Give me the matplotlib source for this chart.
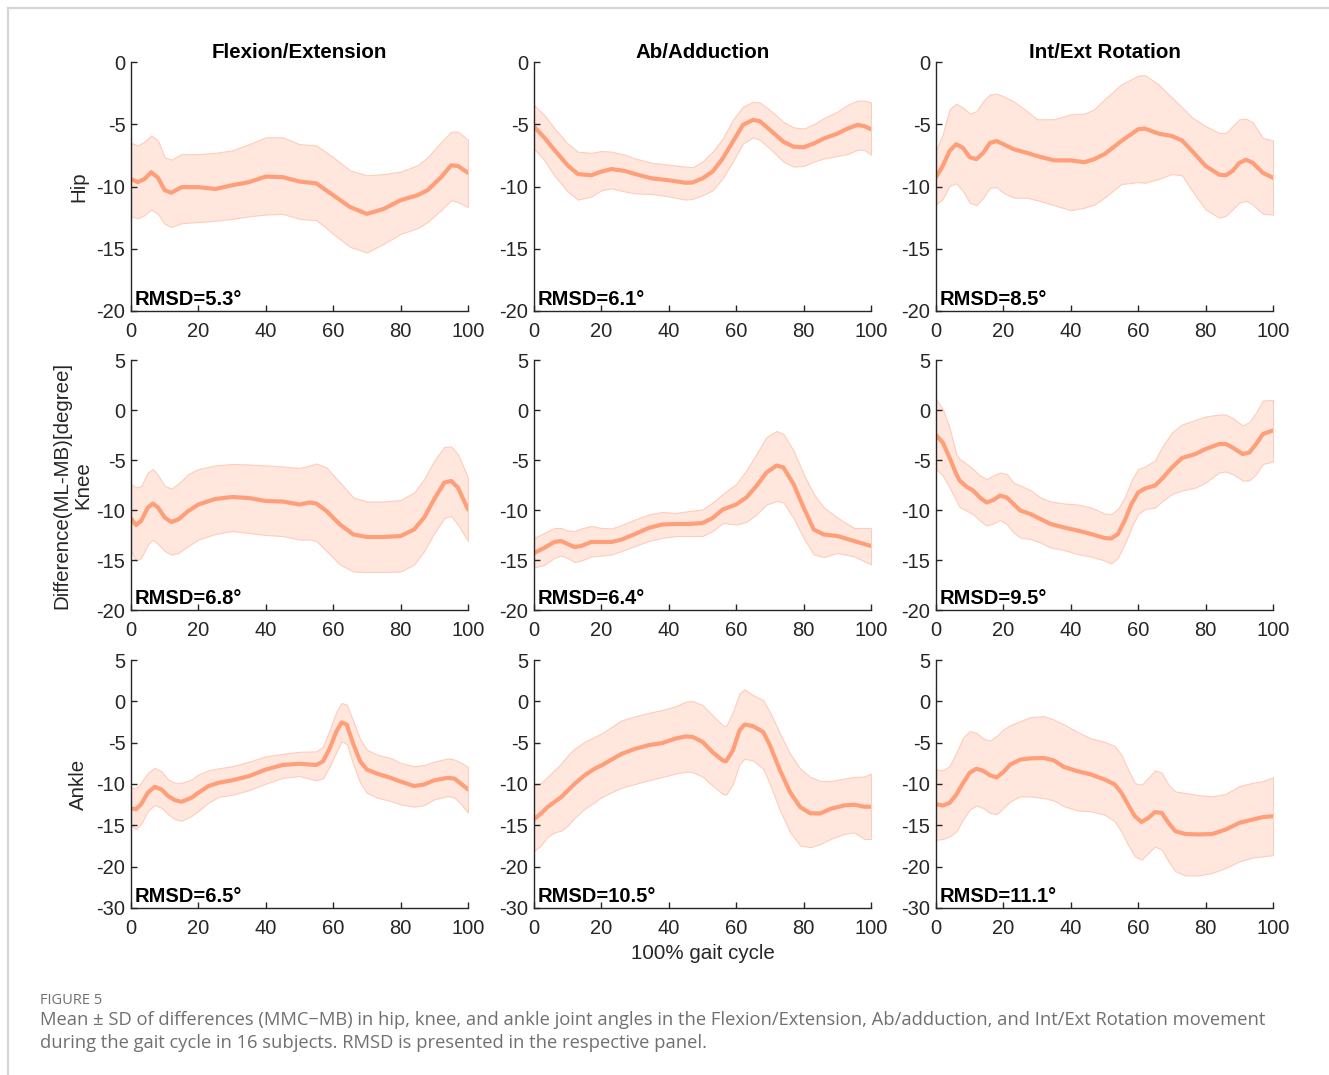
import matplotlib
matplotlib.use("Agg")
import matplotlib.pyplot as plt
from matplotlib.lines import Line2D

plt.rcParams['font.family'] = ['Liberation Sans', 'DejaVu Sans']

# ---------------- data ----------------
col_titles = ["Flexion/Extension", "Ab/Adduction", "Int/Ext Rotation"]
row_labels = ["Hip", "Knee", "Ankle"]
rmsd_labels = [["RMSD=5.3°", "RMSD=6.1°", "RMSD=8.5°"],
               ["RMSD=6.8°", "RMSD=6.4°", "RMSD=9.5°"],
               ["RMSD=6.5°", "RMSD=10.5°", "RMSD=11.1°"]]
x_ticks = [0, 20, 40, 60, 80, 100]
hip_yticks = [-20, -15, -10, -5, 0]
hip_yticklabels = ["-20", "-15", "-10", "-5", "0"]
knee_yticks = [-20, -15, -10, -5, 0, 5]
knee_yticklabels = ["-20", "-15", "-10", "-5", "0", "5"]
ankle_yticks = [-25, -20, -15, -10, -5, 0, 5]
ankle_yticklabels = ["-30", "-20", "-15", "-10", "-5", "0", "5"]

# Hip Flexion/Extension
hip_fe_x = [0, 2, 4, 6, 8, 10, 12, 15, 20, 25, 30, 35, 40, 45, 50, 55, 60, 65, 70, 75, 80, 85, 88, 92, 95, 97, 100]
hip_fe_mean = [-9.4, -9.65, -9.4, -8.85, -9.3, -10.3, -10.5, -10.05, -10.05, -10.2, -9.9, -9.65, -9.2, -9.25, -9.6, -9.75,
               -10.7, -11.65, -12.2, -11.8, -11.1, -10.7, -10.3, -9.25, -8.3, -8.35, -8.9]
hip_fe_hi = [-6.5, -6.7, -6.4, -5.9, -6.3, -7.65, -7.85, -7.4, -7.4, -7.3, -7.1, -6.6, -6.05, -6.05, -6.6, -6.7,
             -7.65, -8.7, -9.1, -9.0, -8.8, -8.3, -7.65, -6.45, -5.6, -5.6, -6.25]
hip_fe_lo = [-12.4, -12.55, -12.3, -11.85, -12.2, -13.0, -13.25, -12.95, -12.85, -12.75, -12.6, -12.4, -12.25, -12.2, -12.6, -12.7,
             -13.8, -14.85, -15.3, -14.6, -13.8, -13.35, -12.85, -11.9, -11.1, -11.25, -11.65]

# Hip Ab/Adduction
hip_aa_x = [0, 3, 6, 10, 13, 17, 20, 23, 27, 30, 35, 40, 45, 47, 50, 53, 56, 59, 62, 65, 67, 70, 74, 77, 80, 83, 86, 90, 93, 96, 98, 100]
hip_aa_mean = [-5.2, -6.05, -7.05, -8.3, -9.0, -9.1, -8.8, -8.6, -8.75, -9.0, -9.35, -9.5, -9.7, -9.68, -9.35, -8.8, -7.75,
               -6.4, -5.05, -4.65, -4.75, -5.45, -6.4, -6.8, -6.85, -6.55, -6.15, -5.75, -5.35, -5.05, -5.15, -5.4]
hip_aa_hi = [-3.45, -4.25, -5.3, -6.55, -7.2, -7.3, -7.15, -7.2, -7.45, -7.75, -8.1, -8.25, -8.4, -8.45, -8.0, -7.2, -6.15,
             -4.65, -3.6, -3.2, -3.25, -3.85, -4.8, -5.25, -5.35, -5.0, -4.5, -4.0, -3.45, -3.1, -3.1, -3.25]
hip_aa_lo = [-6.95, -7.85, -9.1, -10.4, -11.05, -10.8, -10.3, -10.15, -10.4, -10.55, -10.6, -10.8, -11.05, -11.0, -10.7, -10.3, -9.35,
             -8.0, -6.55, -6.05, -6.25, -6.95, -8.0, -8.4, -8.35, -8.0, -7.75, -7.55, -7.4, -7.05, -7.05, -7.45]

# Hip Int/Ext Rotation
hip_ie_x = [0, 2, 4, 6, 8, 10, 12, 14, 16, 18, 20, 23, 27, 30, 35, 40, 44, 47, 50, 55, 60, 62, 66, 70, 73, 76, 80, 84, 86, 88, 90, 92, 94, 97, 100]
hip_ie_mean = [-9.25, -8.35, -7.15, -6.6, -6.9, -7.65, -7.8, -7.3, -6.5, -6.35, -6.6, -7.0, -7.3, -7.55, -7.9, -7.9, -8.05, -7.8,
               -7.4, -6.35, -5.4, -5.35, -5.75, -5.95, -6.3, -7.15, -8.35, -9.05, -9.1, -8.75, -8.1, -7.85, -8.1, -8.9, -9.3]
hip_ie_hi = [-7.1, -5.8, -3.8, -3.35, -3.65, -4.15, -3.95, -3.15, -2.6, -2.55, -2.75, -3.15, -3.95, -4.6, -4.6, -4.2, -4.15, -3.8,
             -3.0, -1.8, -1.1, -1.05, -1.8, -2.85, -3.65, -4.45, -5.15, -5.7, -5.7, -5.15, -4.6, -4.55, -4.85, -6.1, -6.3]
hip_ie_lo = [-11.45, -11.0, -9.95, -9.75, -10.35, -11.3, -11.5, -10.9, -10.1, -10.05, -10.5, -10.9, -10.9, -11.1, -11.5, -11.9, -11.7, -11.45,
             -10.9, -9.8, -9.65, -9.7, -9.4, -9.0, -9.1, -10.35, -11.85, -12.5, -12.35, -11.85, -11.3, -11.15, -11.45, -12.2, -12.25]

# Knee Flexion/Extension
knee_fe_x = [0, 1.5, 3, 5, 6.5, 8, 10, 12, 14, 17, 20, 25, 30, 35, 40, 45, 50, 53, 55, 58, 62, 66, 70, 75, 80, 84, 87, 90, 93, 95, 97, 100]
knee_fe_mean = [-10.85, -11.5, -11.1, -9.75, -9.35, -9.75, -10.75, -11.2, -10.95, -10.1, -9.45, -8.9, -8.7, -8.8, -9.1, -9.15, -9.45,
                -9.25, -9.35, -10.1, -11.45, -12.45, -12.7, -12.7, -12.6, -11.95, -10.75, -8.9, -7.25, -7.1, -7.75, -9.95]
knee_fe_hi = [-7.4, -7.75, -7.6, -6.25, -5.9, -6.5, -7.6, -7.85, -7.4, -6.4, -5.9, -5.55, -5.4, -5.45, -5.55, -5.65, -5.8,
              -5.55, -5.35, -5.75, -7.25, -8.75, -9.15, -9.15, -9.0, -8.25, -6.9, -5.05, -3.7, -3.65, -4.4, -6.75]
knee_fe_lo = [-14.1, -15.1, -14.8, -13.45, -12.95, -13.4, -14.1, -14.45, -14.3, -13.6, -12.95, -12.4, -12.1, -12.3, -12.5, -12.6, -12.95,
              -12.95, -13.1, -14.1, -15.45, -16.15, -16.2, -16.2, -16.15, -15.45, -14.1, -12.3, -10.8, -10.6, -11.45, -13.1]

# Knee Ab/Adduction
knee_aa_x = [0, 3, 6, 8, 10, 12, 14, 17, 20, 23, 26, 30, 34, 38, 42, 46, 50, 53, 56, 60, 63, 66, 69, 72, 74, 77, 80, 83, 86, 90, 95, 100]
knee_aa_mean = [-14.3, -13.8, -13.2, -13.1, -13.4, -13.7, -13.6, -13.2, -13.2, -13.2, -12.95, -12.4, -11.8, -11.45, -11.4, -11.4, -11.3,
                -10.8, -9.95, -9.45, -8.75, -7.6, -6.25, -5.55, -5.75, -7.4, -9.75, -11.95, -12.45, -12.6, -13.1, -13.6]
knee_aa_hi = [-12.8, -12.3, -11.8, -11.8, -12.05, -12.1, -11.85, -11.6, -11.8, -11.85, -11.5, -10.95, -10.45, -10.2, -10.3, -10.1, -9.95,
              -9.25, -8.4, -7.4, -6.05, -4.4, -2.7, -2.1, -2.4, -4.05, -6.4, -8.4, -9.75, -10.75, -11.8, -11.8]
knee_aa_lo = [-15.75, -15.5, -14.8, -14.55, -14.8, -15.2, -15.05, -14.65, -14.55, -14.45, -14.1, -13.6, -13.1, -12.8, -12.6, -12.6, -12.6,
              -12.1, -11.3, -11.45, -11.2, -10.45, -9.45, -9.1, -9.25, -10.8, -12.8, -14.45, -14.7, -14.3, -14.65, -15.45]

# Knee Int/Ext Rotation
knee_ie_x = [0, 2, 4, 6, 7, 9, 11, 13, 15, 17, 19, 21, 23, 25, 28, 31, 34, 38, 42, 46, 50, 52, 54, 56, 58, 60, 62, 65, 67, 70,
             73, 77, 80, 84, 86, 88, 91, 93, 95, 97, 100]
knee_ie_mean = [-2.5, -3.25, -4.75, -6.4, -7.05, -7.65, -8.05, -8.75, -9.25, -9.0, -8.55, -8.75, -9.4, -10.05, -10.4, -10.9, -11.4,
                -11.75, -12.05, -12.4, -12.8, -12.85, -12.4, -11.05, -9.4, -8.25, -7.85, -7.55, -6.9, -5.75,
                -4.8, -4.4, -3.9, -3.4, -3.4, -3.75, -4.4, -4.25, -3.4, -2.4, -2.05]
knee_ie_hi = [1.1, 0.1, -1.75, -4.4, -4.9, -5.35, -5.9, -6.55, -6.9, -6.55, -6.25, -6.4, -7.25, -7.55, -8.0, -8.75, -9.15,
              -9.35, -9.45, -9.75, -10.35, -10.4, -9.9, -8.75, -7.05, -5.9, -5.65, -5.05, -3.75, -2.25,
              -1.45, -1.0, -0.65, -0.45, -0.45, -0.8, -1.55, -1.2, -0.25, 0.95, 1.0]
knee_ie_lo = [-5.9, -6.55, -7.75, -9.05, -9.7, -10.05, -10.4, -11.05, -11.55, -11.35, -11.0, -11.4, -12.25, -12.75, -12.9, -13.25, -13.75,
              -14.0, -14.4, -14.65, -15.05, -15.35, -14.75, -13.4, -11.75, -10.4, -9.9, -9.75, -9.15, -8.4,
              -8.05, -7.75, -7.25, -6.25, -6.15, -6.4, -7.05, -7.05, -6.4, -5.4, -5.15]

# Ankle Flexion/Extension
ankle_fe_x = [0, 1.5, 3, 5, 7, 9, 11, 13, 15, 18, 20, 23, 26, 30, 35, 40, 45, 50, 55, 57, 59, 61, 62.5, 64, 66, 68, 70,
              73, 77, 80, 84, 87, 90, 94, 96, 98, 100]
ankle_fe_mean = [-12.95, -13.05, -12.45, -11.05, -10.35, -10.65, -11.45, -11.95, -12.15, -11.65, -11.05, -10.25, -9.85, -9.55,
                 -9.05, -8.25, -7.7, -7.55, -7.7, -7.25, -5.65, -3.6, -2.55, -2.8, -5.2, -7.25, -8.25,
                 -8.75, -9.25, -9.7, -10.25, -10.05, -9.55, -9.25, -9.35, -10.0, -10.65]
ankle_fe_hi = [-10.45, -10.45, -9.85, -8.65, -8.05, -8.45, -9.45, -9.85, -9.85, -9.45, -8.85, -8.35, -8.1, -7.85,
               -7.3, -6.65, -6.35, -6.1, -6.05, -5.45, -3.4, -1.2, -0.2, -0.4, -2.4, -4.6, -5.85,
               -6.45, -6.85, -7.45, -7.85, -7.7, -7.3, -6.9, -7.05, -7.45, -7.95]
ankle_fe_lo = [-15.05, -15.45, -14.85, -13.25, -12.55, -12.85, -13.65, -14.25, -14.45, -13.85, -13.25, -12.25, -11.55, -11.3,
               -10.75, -9.95, -9.25, -9.05, -9.55, -9.3, -7.85, -6.05, -4.85, -5.15, -7.65, -9.85, -11.05,
               -11.65, -12.05, -12.45, -12.75, -12.55, -11.85, -11.45, -11.65, -12.45, -13.45]

# Ankle Ab/Adduction
ankle_aa_x = [0, 2, 4, 6, 8, 10, 12, 15, 18, 20, 23, 26, 30, 34, 38, 42, 45, 47, 50, 53, 56, 57, 59, 61, 62.5, 65, 68, 70,
              73, 76, 79, 82, 85, 88, 92, 95, 98, 100]
ankle_aa_mean = [-14.25, -13.6, -12.8, -12.2, -11.6, -10.8, -10.0, -8.95, -8.15, -7.75, -7.05, -6.35, -5.75, -5.3, -5.05, -4.5,
                 -4.25, -4.3, -4.9, -6.15, -7.15, -7.25, -5.95, -3.5, -2.8, -3.0, -3.7, -5.3,
                 -8.35, -11.0, -12.8, -13.55, -13.55, -13.0, -12.6, -12.5, -12.75, -12.75]
ankle_aa_hi = [-10.2, -9.9, -9.15, -8.35, -7.55, -6.55, -5.75, -4.9, -4.3, -3.9, -3.1, -2.3, -1.8, -1.4, -1.05, -0.6,
               -0.05, 0.05, -0.45, -1.7, -2.9, -3.0, -1.3, 0.95, 1.45, 0.75, 0.15, -1.3,
               -3.9, -6.35, -8.15, -9.15, -9.65, -9.65, -9.35, -9.15, -9.1, -8.75]
ankle_aa_lo = [-18.1, -17.45, -16.4, -15.85, -15.65, -15.05, -14.1, -13.0, -12.2, -11.6, -11.0, -10.45, -10.0, -9.55, -9.15, -8.75,
               -8.5, -8.55, -9.1, -10.2, -11.2, -11.3, -10.0, -7.55, -6.95, -7.15, -8.15, -10.0,
               -13.2, -15.85, -17.45, -17.65, -17.25, -16.65, -16.05, -15.85, -16.65, -16.65]

# Ankle Int/Ext Rotation
ankle_ie_x = [0, 2, 4, 6, 8, 10, 12, 14, 16, 18, 20, 22, 25, 28, 32, 35, 38, 42, 46, 50, 53, 55, 57, 59, 61, 63, 65, 67, 69,
              71, 74, 78, 82, 86, 90, 94, 97, 100]
ankle_ie_mean = [-12.45, -12.6, -12.3, -11.3, -9.9, -8.65, -8.15, -8.4, -8.95, -9.2, -8.55, -7.65, -7.05, -6.9, -6.85, -7.15,
                 -7.95, -8.45, -8.85, -9.45, -10.05, -11.05, -12.5, -13.9, -14.6, -14.1, -13.4, -13.5, -14.7,
                 -15.7, -16.05, -16.1, -16.05, -15.5, -14.7, -14.3, -14.0, -13.9]
ankle_ie_hi = [-8.25, -8.35, -7.85, -6.25, -4.4, -3.6, -3.8, -4.5, -4.75, -4.2, -3.4, -2.9, -2.4, -1.9, -1.8, -2.2,
               -2.8, -3.7, -4.5, -4.9, -5.4, -6.45, -8.25, -9.9, -10.1, -9.25, -8.35, -8.65, -10.1,
               -10.9, -11.1, -11.35, -11.5, -11.2, -10.25, -9.85, -9.65, -9.2]
ankle_ie_lo = [-16.75, -16.65, -16.35, -15.75, -14.3, -13.1, -12.6, -12.9, -13.5, -13.65, -12.9, -12.1, -11.5, -11.5, -11.7, -12.0,
               -12.7, -13.2, -13.3, -13.7, -14.5, -15.75, -17.35, -18.75, -19.15, -18.35, -17.55, -17.95, -19.35,
               -20.55, -21.05, -21.05, -20.75, -20.15, -19.35, -18.9, -18.75, -18.6]

panels = [
    [(hip_fe_x, hip_fe_mean, hip_fe_lo, hip_fe_hi),
     (hip_aa_x, hip_aa_mean, hip_aa_lo, hip_aa_hi),
     (hip_ie_x, hip_ie_mean, hip_ie_lo, hip_ie_hi)],
    [(knee_fe_x, knee_fe_mean, knee_fe_lo, knee_fe_hi),
     (knee_aa_x, knee_aa_mean, knee_aa_lo, knee_aa_hi),
     (knee_ie_x, knee_ie_mean, knee_ie_lo, knee_ie_hi)],
    [(ankle_fe_x, ankle_fe_mean, ankle_fe_lo, ankle_fe_hi),
     (ankle_aa_x, ankle_aa_mean, ankle_aa_lo, ankle_aa_hi),
     (ankle_ie_x, ankle_ie_mean, ankle_ie_lo, ankle_ie_hi)],
]
row_ylims = [(-20, 0), (-20, 5), (-25, 5)]
row_yticks = [(hip_yticks, hip_yticklabels), (knee_yticks, knee_yticklabels), (ankle_yticks, ankle_yticklabels)]

# ---------------- styling ----------------
LINE_C = '#FF9F7A'
FILL_C = '#FFE7DE'
EDGE_C = '#FDCDBB'
AX_C = '#262626'

W, H = 1329, 1075
fig = plt.figure(figsize=(W / 100, H / 100), dpi=100)

col_left = [131, 534, 936]
ax_w = 337
row_top = [62, 360, 660]
row_bot = [311, 610, 908]

for r in range(3):
    for c in range(3):
        l = col_left[c] / W
        b = 1 - row_bot[r] / H
        h = (row_bot[r] - row_top[r]) / H
        ax = fig.add_axes([l, b, ax_w / W, h])
        x, m, lo, hi = panels[r][c]
        ax.fill_between(x, lo, hi, facecolor=FILL_C, edgecolor=EDGE_C, linewidth=0.8, zorder=1)
        ax.plot(x, m, color=LINE_C, linewidth=3.0, solid_capstyle='round', solid_joinstyle='round', zorder=2)
        ax.set_xlim(0, 100)
        ax.set_ylim(*row_ylims[r])
        ax.set_xticks(x_ticks)
        ax.set_yticks(row_yticks[r][0])
        ax.set_yticklabels(row_yticks[r][1])
        for s in ['top', 'right']:
            ax.spines[s].set_visible(False)
        for s in ['left', 'bottom']:
            ax.spines[s].set_color(AX_C)
            ax.spines[s].set_linewidth(1.0)
        ax.tick_params(direction='in', length=4, width=1.0, colors=AX_C, labelsize=14.5)
        ax.tick_params(axis='x', pad=8)
        ax.tick_params(axis='y', pad=4)
        ax.set_facecolor('none')
        ax.text(0.012, 0.008, rmsd_labels[r][c], transform=ax.transAxes, fontsize=14.5,
                fontweight='bold', color='black', ha='left', va='bottom')
        if r == 0:
            ax.set_title(col_titles[c], fontsize=14.8, fontweight='bold', pad=3, color='black')
        if c == 0:
            if r == 1:
                ax.set_ylabel("Difference(ML-MB)[degree]\n" + row_labels[r], fontsize=14.8, color=AX_C,
                              labelpad=3, linespacing=1.15)
            else:
                ax.set_ylabel(row_labels[r], fontsize=14.8, color=AX_C, labelpad=6)
        if r == 2 and c == 1:
            ax.set_xlabel("100% gait cycle", fontsize=14.8, color=AX_C, labelpad=4)

# border lines
fig.add_artist(Line2D([8 / W, 1.0], [1 - 8 / H, 1 - 8 / H], transform=fig.transFigure, color='#d6d6d6', linewidth=1.6))
fig.add_artist(Line2D([8 / W, 8 / W], [0, 1 - 8 / H], transform=fig.transFigure, color='#d6d6d6', linewidth=1.6))

# caption
CAP_C = '#707070'
fig.text(40 / W, 1 - 1000 / H, "FIGURE 5", fontsize=10.5, color=CAP_C, family=['Open Sans', 'DejaVu Sans'],
         ha='left', va='center')
fig.text(40 / W, 1 - 1020 / H,
         "Mean \u00b1 SD of differences (MMC\u2212MB) in hip, knee, and ankle joint angles in the Flexion/Extension, Ab/adduction, and Int/Ext Rotation movement",
         fontsize=13.2, color=CAP_C, family=['Open Sans', 'DejaVu Sans'], ha='left', va='center')
fig.text(40 / W, 1 - 1043 / H,
         "during the gait cycle in 16 subjects. RMSD is presented in the respective panel.",
         fontsize=13.2, color=CAP_C, family=['Open Sans', 'DejaVu Sans'], ha='left', va='center')

fig.savefig("out.png", dpi=100)
